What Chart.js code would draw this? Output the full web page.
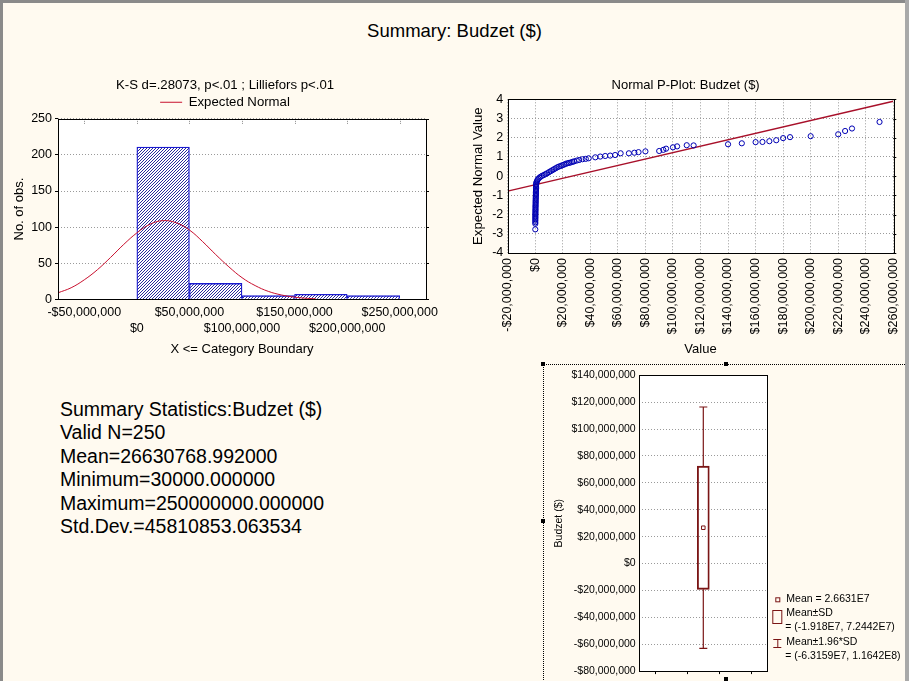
<!DOCTYPE html>
<html>
<head>
<meta charset="utf-8">
<script src="https://cdn.jsdelivr.net/npm/chart.js@4"></script>
<style>
html, body { margin: 0; padding: 0; }
body {
  width: 909px; height: 681px; overflow: hidden; position: relative;
  background: #fffaf0; font-family: Arial, "Liberation Sans", sans-serif; color: #000;
}
canvas { position: absolute; }
#hist { left: 0; top: 70px; }
#pplot { left: 460px; top: 70px; }
#box { left: 543px; top: 364px; }
#mainTitle { position: absolute; left: 0; width: 909px; top: 20px; text-align: center; font-size: 18.5px; }
#stats { position: absolute; left: 60px; top: 398px; font-size: 19.5px; line-height: 23.4px; white-space: pre; }
#boxFrame { position: absolute; left: 543px; top: 364px; width: 366px; height: 330px; border: 1px dotted #000; box-sizing: border-box; }
.handle { position: absolute; width: 4px; height: 4px; background: #000; }
.bTop { position: absolute; left: 0; top: 0; width: 909px; height: 3px; background: #8a8a8a; }
.bLeft { position: absolute; left: 0; top: 0; width: 3px; height: 681px; background: #8a8a8a; }
.bRight { position: absolute; left: 905px; top: 0; width: 4px; height: 681px; background: #a9a9a9; }
</style>
</head>
<body>
<div id="mainTitle">Summary: Budzet ($)</div>
<canvas id="hist" width="450" height="290"></canvas>
<canvas id="pplot" width="460" height="290"></canvas>
<div id="stats"></div>
<div id="boxFrame"></div>
<div class="handle" style="left:724px;top:362px"></div>
<div class="handle" style="left:541px;top:519px"></div>
<div class="handle" style="left:724px;top:677px"></div>
<div class="handle" style="left:541px;top:362px"></div>
<canvas id="box" width="366" height="317"></canvas>
<div class="bTop"></div><div class="bLeft"></div><div class="bRight"></div>
<script>
// histogram: bin middles (bins of 50M, upper boundary = category boundary) and counts
const binMid = [25e6, 75e6, 125e6, 175e6, 225e6];
const binCounts = [211, 22, 5, 7, 5];
const histTicks = [-50e6, 0, 50e6, 100e6, 150e6, 200e6, 250e6];

// expected normal curve
const normX = [-75e6, -62.5e6, -50e6, -37.5e6, -25e6, -12.5e6, 0, 12.5e6, 25e6, 37.5e6, 50e6,
  62.5e6, 75e6, 87.5e6, 100e6, 112.5e6, 125e6, 137.5e6, 150e6, 162.5e6, 170e6];
const normY = [9, 16, 27, 41, 58, 76, 92, 104, 109, 106, 96, 80, 62, 45, 30, 19, 11, 6, 3, 1.3, 0.8];

// normal probability plot: value (millions $) and expected normal value
const ppValue = [
  0.03, 0.05, 0.05, 0.05, 0.08, 0.1, 0.1, 0.1, 0.1, 0.15, 0.15, 0.15, 0.2, 0.2, 0.2, 0.25, 0.25,
  0.3, 0.3, 0.3, 0.35, 0.4, 0.4, 0.45, 0.5, 0.5, 0.5, 0.55, 0.6, 0.6, 0.6, 0.65, 0.7,
  0.8, 1.2, 1.6, 2.2, 3, 3.9, 5, 6.3, 7.5, 8.7, 10, 11.2, 12.4, 13.6, 14.8, 16, 17.2, 18.5, 19.7,
  20.9, 22.1, 23.3, 24.5, 25.7, 27, 28.2, 30.1, 31.9, 34.3, 36.7, 38.8,
  43.6, 47.2, 50.8, 54.4, 58, 62, 68, 72, 75, 80, 90, 93, 95, 100, 103, 110, 115,
  140, 150, 160, 165, 170, 175, 180, 185, 200, 220, 225, 230, 250];
const ppExpected = [
  -2.77, -2.48, -2.4, -2.32, -2.25, -2.18, -2.12, -2.05, -1.98, -1.92, -1.85, -1.78, -1.72, -1.65, -1.58, -1.52, -1.45,
  -1.38, -1.32, -1.25, -1.18, -1.12, -1.05, -0.98, -0.92, -0.85, -0.78, -0.72, -0.65, -0.58, -0.52, -0.45, -0.4,
  -0.33, -0.27, -0.2, -0.14, -0.08, -0.03, 0.02, 0.06, 0.11, 0.15, 0.21, 0.26, 0.31, 0.36, 0.41, 0.46, 0.5, 0.53, 0.57,
  0.6, 0.64, 0.67, 0.69, 0.71, 0.74, 0.77, 0.81, 0.84, 0.88, 0.9, 0.93,
  0.98, 1.02, 1.05, 1.07, 1.1, 1.19, 1.19, 1.22, 1.25, 1.29, 1.31, 1.37, 1.43, 1.5, 1.55, 1.61, 1.6,
  1.66, 1.71, 1.77, 1.78, 1.82, 1.87, 1.98, 2.03, 2.08, 2.18, 2.35, 2.48, 2.82];
const ppLineX = [-20e6, 260e6];
const ppLineY = [-0.78, 3.9];

// box plot
const meanValue = 2.6631e7;
const sdRange = [-1.918e7, 7.2442e7];
const ciRange = [-6.3159e7, 1.1642e8];

const statLines = [
  'Summary Statistics:Budzet ($)',
  'Valid N=250',
  'Mean=26630768.992000',
  'Minimum=30000.000000',
  'Maximum=250000000.000000',
  'Std.Dev.=45810853.063534'
];
document.getElementById('stats').textContent = statLines.join('\n');

Chart.defaults.font.family = 'Arial, "Liberation Sans", sans-serif';
Chart.defaults.color = '#000';

function money(v) {
  const s = String(Math.round(Math.abs(v))).replace(/\B(?=(\d{3})+(?!\d))/g, ',');
  return (v < 0 ? '-$' : '$') + s;
}
function expo(v) {
  return v.toExponential().replace('e+', 'E');
}

// white plot area, black frame round it, small marks on top and right edges
const plotFrame = {
  id: 'plotFrame',
  beforeDraw(chart) {
    const a = chart.chartArea, ctx = chart.ctx;
    ctx.save();
    ctx.fillStyle = '#fff';
    ctx.fillRect(a.left, a.top, a.right - a.left, a.bottom - a.top);
    ctx.restore();
  },
  afterDraw(chart, args, opts) {
    const a = chart.chartArea, ctx = chart.ctx;
    const xs = chart.scales.x, ys = chart.scales.y;
    ctx.save();
    if (opts.top) {
      ctx.strokeStyle = '#8a8a8a';
      ctx.setLineDash([1, 1]);
      ctx.beginPath();
      xs.ticks.forEach(t => {
        const px = Math.round(xs.getPixelForValue(t.value)) + 0.5;
        ctx.moveTo(px, a.top); ctx.lineTo(px, a.top + 5);
      });
      ctx.stroke();
      ctx.setLineDash([]);
    }
    if (opts.right) {
      ctx.strokeStyle = '#000';
      ctx.beginPath();
      ys.ticks.forEach(t => {
        const py = Math.round(ys.getPixelForValue(t.value)) + 0.5;
        ctx.moveTo(a.right, py); ctx.lineTo(a.right + 3, py);
      });
      ctx.stroke();
    }
    ctx.strokeStyle = '#000';
    ctx.lineWidth = 1;
    ctx.strokeRect(Math.round(a.left) + 0.5, Math.round(a.top) + 0.5,
      Math.round(a.right - a.left), Math.round(a.bottom - a.top));
    ctx.restore();
  }
};

// hatch pattern for the histogram bars
const pat = document.createElement('canvas');
pat.width = 3; pat.height = 3;
const pctx = pat.getContext('2d');
pctx.fillStyle = '#fff';
pctx.fillRect(0, 0, 3, 3);
pctx.fillStyle = '#2a2a9a';
pctx.fillRect(2, 0, 1, 1);
pctx.fillRect(1, 1, 1, 1);
pctx.fillRect(0, 2, 1, 1);
const hatch = pctx.createPattern(pat, 'repeat');

const dotted = [1, 2];
const gridCol = '#9a9a9a';

new Chart(document.getElementById('hist'), {
  data: {
    datasets: [
      {
        type: 'bar', label: 'bins',
        data: binMid.map((x, i) => ({ x: x, y: binCounts[i] })),
        backgroundColor: hatch, borderColor: '#1a1ad0', borderWidth: 1.3,
        barPercentage: 1, categoryPercentage: 1, order: 2
      },
      {
        type: 'line', label: 'Expected Normal',
        data: normX.map((x, i) => ({ x: x, y: normY[i] })),
        borderColor: '#c8102e', borderWidth: 1, pointRadius: 0,
        tension: 0.4, order: 1
      }
    ]
  },
  options: {
    responsive: false, animation: false, events: [],
    layout: { padding: { left: 24, right: 24, top: 0, bottom: 0 } },
    plugins: {
      plotFrame: { top: true, right: true },
      title: {
        display: true, text: 'K-S d=.28073, p<.01 ; Lilliefors p<.01', color: '#000',
        font: { size: 13.2, weight: 'normal', lineHeight: 1.2 }, padding: { top: 7.1, bottom: -6.44 }
      },
      legend: {
        display: true,
        labels: {
          filter: item => item.datasetIndex === 1,
          usePointStyle: true, pointStyle: 'line', pointStyleWidth: 22, boxHeight: 12.5,
          font: { size: 13.2 }, padding: 9.15, color: '#000'
        }
      },
      tooltip: { enabled: false }
    },
    scales: {
      x: {
        type: 'linear', min: -75e6, max: 275e6, offset: false,
        grid: { display: false, drawTicks: false },
        border: { display: false },
        afterBuildTicks: s => { s.ticks = histTicks.map(v => ({ value: v })); },
        ticks: {
          autoSkip: false, maxRotation: 0, minRotation: 0,
          font: { size: 12.5, lineHeight: 1.33 }, padding: 4.8, color: '#000',
          callback: (v, i) => i % 2 === 0 ? money(v) : ['', money(v)]
        },
        title: { display: true, text: 'X <= Category Boundary', font: { size: 13 }, padding: { top: 0, bottom: 2.5 } },
        afterFit: s => { s.height = 60.7; }
      },
      y: {
        min: 0, max: 250,
        grid: { color: gridCol, tickColor: '#000', drawTicks: true, tickLength: 3, tickBorderDash: [] },
        border: { display: false, dash: dotted },
        ticks: { stepSize: 50, font: { size: 12.5 }, padding: 3, color: '#000' },
        title: { display: true, text: 'No. of obs.', font: { size: 13 }, padding: { top: -12.8, bottom: 0 } },
        afterFit: s => { s.width = 34; }
      }
    }
  },
  plugins: [plotFrame]
});

new Chart(document.getElementById('pplot'), {
  data: {
    datasets: [
      {
        type: 'line', label: 'line',
        data: ppLineX.map((x, i) => ({ x: x, y: ppLineY[i] })),
        borderColor: '#a8102a', borderWidth: 1.4, pointRadius: 0, order: 2
      },
      {
        type: 'scatter', label: 'values',
        data: ppValue.map((v, i) => ({ x: v * 1e6, y: ppExpected[i] })),
        pointStyle: 'circle', pointRadius: 2.6, borderWidth: 1,
        borderColor: '#0000b4', backgroundColor: 'rgba(0,0,0,0)', order: 1
      }
    ]
  },
  options: {
    responsive: false, animation: false, events: [],
    layout: { padding: { left: 18, right: 26.7, top: 0, bottom: 0 } },
    plugins: {
      plotFrame: { top: false, right: true },
      title: {
        display: true, text: 'Normal P-Plot: Budzet ($)', color: '#000',
        font: { size: 13, weight: 'normal', lineHeight: 1.2 }, padding: { top: 7.2, bottom: 6.5 }
      },
      legend: { display: false },
      tooltip: { enabled: false }
    },
    scales: {
      x: {
        type: 'linear', min: -20e6, max: 260e6,
        grid: { color: gridCol, drawTicks: false },
        border: { display: false, dash: dotted },
        ticks: {
          stepSize: 20e6, autoSkip: false, maxRotation: 90, minRotation: 90,
          font: { size: 12.5 }, padding: 5, color: '#000', callback: v => money(v)
        },
        title: { display: true, text: 'Value', font: { size: 13 }, padding: { top: 0, bottom: 2.5 } },
        afterFit: s => { s.height = 107; }
      },
      y: {
        min: -4, max: 4,
        grid: { color: gridCol, drawTicks: false },
        border: { display: false, dash: dotted },
        ticks: { stepSize: 1, font: { size: 12.5 }, padding: 4.4, color: '#000' },
        title: { display: true, text: 'Expected Normal Value', font: { size: 13.2 }, padding: { top: -7.9, bottom: 0 } },
        afterFit: s => { s.width = 29.7; }
      }
    }
  },
  plugins: [plotFrame]
});

const maroon = '#7a1515';

// legend of the box plot, drawn right of the plot area
const boxLegend = {
  id: 'boxLegend',
  afterDraw(chart) {
    const ctx = chart.ctx, a = chart.chartArea;
    const ix = a.right + 10, tx = a.right + 19;
    ctx.save();
    ctx.strokeStyle = maroon;
    ctx.lineWidth = 1;
    ctx.fillStyle = '#000';
    ctx.font = '10.5px Arial, "Liberation Sans", sans-serif';
    ctx.textBaseline = 'middle';
    ctx.textAlign = 'left';
    ctx.strokeRect(ix - 1.5, 233.8, 4, 4);
    ctx.fillText('Mean = ' + expo(meanValue), tx, 235.3);
    ctx.strokeRect(ix - 4.5, 246.5, 9, 13);
    ctx.fillText('Mean\u00b1SD', tx, 249.3);
    ctx.fillText('= (' + expo(sdRange[0]) + ', ' + expo(sdRange[1]) + ')', tx - 1, 263.3);
    ctx.beginPath();
    ctx.moveTo(ix - 4, 275.5); ctx.lineTo(ix + 4, 275.5);
    ctx.moveTo(ix + 0.5, 275.5); ctx.lineTo(ix + 0.5, 283.5);
    ctx.moveTo(ix - 4, 283.5); ctx.lineTo(ix + 4, 283.5);
    ctx.stroke();
    ctx.fillText('Mean\u00b11.96*SD', tx, 278.3);
    ctx.fillText('= (' + expo(ciRange[0]) + ', ' + expo(ciRange[1]) + ')', tx - 1, 292.3);
    ctx.restore();
  }
};

new Chart(document.getElementById('box'), {
  data: {
    datasets: [
      {
        type: 'line', label: 'whiskers',
        data: [
          { x: 2, y: ciRange[0] }, { x: 2, y: sdRange[0] }, { x: 2, y: null },
          { x: 2, y: sdRange[1] }, { x: 2, y: ciRange[1] }
        ],
        borderColor: maroon, borderWidth: 1.2, pointRadius: 0, spanGaps: false
      },
      {
        type: 'line', label: 'caps',
        data: [
          { x: 1.875, y: ciRange[0] }, { x: 2.125, y: ciRange[0] }, { x: 2, y: null },
          { x: 1.875, y: ciRange[1] }, { x: 2.125, y: ciRange[1] }
        ],
        borderColor: maroon, borderWidth: 1.2, pointRadius: 0, spanGaps: false
      },
      {
        type: 'bar', label: 'Mean\u00b1SD',
        data: [{ x: 2, y: sdRange }],
        backgroundColor: 'rgba(0,0,0,0)', borderColor: maroon, borderWidth: 1.2,
        borderSkipped: false, barThickness: 12
      },
      {
        type: 'scatter', label: 'Mean',
        data: [{ x: 2, y: meanValue }],
        pointStyle: 'rect', pointRadius: 2.5, borderWidth: 1,
        borderColor: maroon, backgroundColor: '#fff'
      }
    ]
  },
  options: {
    responsive: false, animation: false, events: [],
    layout: { padding: { left: 0, right: 141.7, top: 11.3, bottom: 0 } },
    plugins: { legend: { display: false }, title: { display: false }, tooltip: { enabled: false } },
    scales: {
      x: {
        type: 'linear', min: 0, max: 4, offset: false,
        grid: { drawOnChartArea: false, drawTicks: true, tickLength: 3, color: '#000' },
        border: { display: false },
        ticks: { stepSize: 1, display: true, callback: () => '', padding: 0 },
        afterBuildTicks: s => { s.ticks = s.ticks.filter(t => t.value > 0 && t.value < 4); },
        afterFit: s => { s.height = 8.7; }
      },
      y: {
        min: -80e6, max: 140e6,
        grid: { color: gridCol, drawTicks: false },
        border: { display: false, dash: dotted },
        ticks: { stepSize: 20e6, font: { size: 10.5 }, padding: 3.6, color: '#000', callback: v => money(v) },
        title: { display: true, text: 'Budzet ($)', font: { size: 10.5 }, padding: { top: 9.7, bottom: 0 } },
        afterFit: s => { s.width = 96.3; }
      }
    }
  },
  plugins: [plotFrame, boxLegend]
});
</script>
</body>
</html>
